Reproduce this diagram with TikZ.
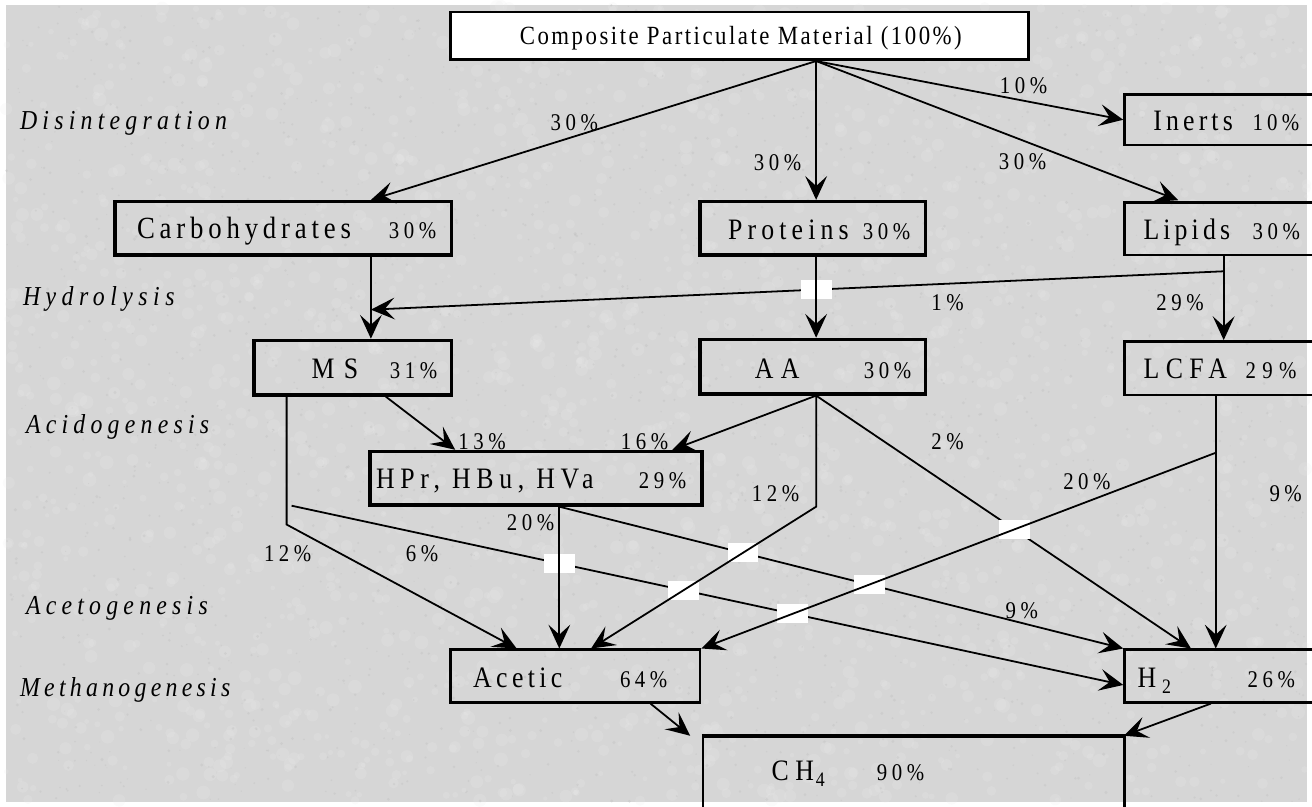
\documentclass[tikz,border=0pt]{standalone}
\usepackage{fontspec}
\usepackage{graphicx}
\setmainfont{Liberation Serif}
\usetikzlibrary{arrows.meta,intersections,calc}
\definecolor{bg}{RGB}{214,214,214}
\definecolor{bglight}{RGB}{236,236,236}
\definecolor{bgdark}{RGB}{190,190,190}
\newcommand{\T}[3]{\scalebox{1}[1.15]{\fontsize{#1}{#1}\selectfont\addfontfeatures{LetterSpace=#2}#3}}
\newcommand{\TI}[3]{\scalebox{1}[1.15]{\fontsize{#1}{#1}\selectfont\itshape\addfontfeatures{LetterSpace=#2}#3}}
\newcommand{\SUB}[1]{\raisebox{-5pt}{\fontsize{18}{18}\selectfont #1}}
\begin{document}
\begin{tikzpicture}[x=1pt,y=-1pt,
  box/.style={draw,line width=2.6pt,inner sep=0pt,rectangle},
  hbox/.style={box,line width=3.4pt},
  conn/.style={line width=1.8pt},
  arr/.style={conn,-{Stealth[length=24pt,width=22pt,inset=10pt]}},
  lab/.style={inner sep=0pt,anchor=base west},
  gapbox/.style={fill=white,inner sep=0pt,minimum width=31pt,minimum height=19pt}]
\fill[bg] (0,0) rectangle (1312,803);
% background texture
\pgfmathsetseed{7}
\foreach \i in {1,...,2200}{
  \pgfmathsetmacro{\px}{rnd*1312}\pgfmathsetmacro{\py}{rnd*803}\pgfmathsetmacro{\pr}{2+rnd*5}
  \fill[bglight,opacity=0.22] (\px,\py) circle[radius=\pr pt];
}
\foreach \i in {1,...,2200}{
  \pgfmathsetmacro{\px}{rnd*1312}\pgfmathsetmacro{\py}{rnd*803}\pgfmathsetmacro{\pr}{0.5+rnd*1.2}
  \fill[bgdark,opacity=0.35] (\px,\py) circle[radius=\pr pt];
}
\useasboundingbox (0,0) rectangle (1312,803);

% boxes
\node[box,fill=white,minimum width=583pt,minimum height=48pt] (comp) at (739.5,31) {};
\node[box,minimum width=192pt,minimum height=51pt] (inerts) at (1224,115.5) {};
\node[hbox,minimum width=339pt,minimum height=54pt] (carb) at (279.5,225) {};
\node[hbox,minimum width=227pt,minimum height=54pt] (prot) at (813.5,225) {};
\node[box,minimum width=192pt,minimum height=53pt] (lipids) at (1224,225.5) {};
\node[hbox,minimum width=199pt,minimum height=55pt] (ms) at (349.5,365.5) {};
\node[hbox,minimum width=227pt,minimum height=55pt] (aa) at (813.5,364.5) {};
\node[box,minimum width=192pt,minimum height=54pt] (lcfa) at (1224,366) {};
\node[hbox,minimum width=335pt,minimum height=54pt] (hpr) at (534.5,477) {};
\node[box,minimum width=252pt,minimum height=53pt] (acetic) at (574,676.5) {};
\node[box,minimum width=192pt,minimum height=53pt] (h2) at (1224,676.5) {};
\node[box,minimum width=425pt,minimum height=82pt] (ch4) at (915.5,779) {};
\draw[line width=3.4pt] (ch4.north west) -- (ch4.north east);

% texts in boxes
\node[lab] (compT) at (518,40) {\T{23}{11}{Composite Particulate Material (100\%)}};
\node[lab] (inertsT) at (1157,126) {\T{26}{16}{Inerts}};
\node[lab] (inertsP) at (1257,126) {\T{21}{20}{10\%}};
\node[lab] (carbT) at (132,235) {\T{27}{18}{Carbohydrates}};
\node[lab] (carbP) at (386,235) {\T{21}{22}{30\%}};
\node[lab] (protT) at (728,236) {\T{26}{20}{Proteins}};
\node[lab] (protP) at (864,236) {\T{21}{22}{30\%}};
\node[lab] (lipT) at (1147,236) {\T{26}{16}{Lipids}};
\node[lab] (lipP) at (1257,236) {\T{21}{22}{30\%}};
\node[lab] (msT) at (308,376) {\T{26}{36}{MS}};
\node[lab] (msP) at (387,376) {\T{21}{22}{31\%}};
\node[lab] (aaT) at (755,376) {\T{26}{29}{AA}};
\node[lab] (aaP) at (865,376) {\T{21}{22}{30\%}};
\node[lab] (lcfaT) at (1147,376) {\T{26}{25}{LCFA}};
\node[lab] (lcfaP) at (1250,376) {\T{21}{30}{29\%}};
\node[lab] (hprT) at (373,487) {\T{26}{22}{HPr, HBu, HVa}};
\node[lab] (hprP) at (638,487) {\T{21}{22}{29\%}};
\node[lab] (acT) at (471,688) {\T{26}{17}{Acetic}};
\node[lab] (acP) at (619,688) {\T{21}{22}{64\%}};
\node[lab] (h2T) at (1141,688) {\T{26}{0}{H\hspace{6pt}\SUB{2}}};
\node[lab] (h2P) at (1252,688) {\T{21}{22}{26\%}};
\node[lab] (ch4T) at (772,782) {\T{26}{25}{CH\hspace{2pt}\SUB{4}}};
\node[lab] (ch4P) at (878,782) {\T{21}{22}{90\%}};

% stage labels
\node[lab] (s1) at (14,125) {\TI{24}{22}{Disintegration}};
\node[lab] (s2) at (17,303) {\TI{24}{23}{Hydrolysis}};
\node[lab] (s3) at (20,432) {\TI{24}{22}{Acidogenesis}};
\node[lab] (s4) at (20,614) {\TI{24}{22}{Acetogenesis}};
\node[lab] (s5) at (14,697) {\TI{24}{18}{Methanogenesis}};

% coordinates
\coordinate (o) at ([xshift=77.5pt]comp.south);
\coordinate (lb) at ([xshift=4pt,yshift=-15pt]lipids.south);
\coordinate (msin) at (368,307);
\coordinate (aao) at ([xshift=3.5pt]aa.south);
\coordinate (aab) at ([yshift=-112pt]aao);
\coordinate (lcb) at ([xshift=-4pt,yshift=-57pt]lcfa.south);
\coordinate (msbot) at ([xshift=-66.5pt]ms.south);
\coordinate (msl) at ([yshift=-129pt]msbot);
\coordinate (ms6) at ([xshift=5pt,yshift=-110pt]msbot);
\coordinate (hprb) at ([xshift=23.5pt]hpr.south);

% disintegration
\draw[arr] (o) -- ([xshift=88.5pt]carb.north);
\draw[arr] (o) -- ([xshift=3.5pt]prot.north);
\draw[arr] (o) -- (inerts.west);
\draw[arr,shorten >=3pt] (o) -- ([xshift=-39pt]lipids.north);

% hydrolysis
\draw[arr] ([xshift=88.5pt]carb.south) -- ([xshift=18.5pt]ms.north);
\draw[arr] ([xshift=4pt]lipids.south) -- ([xshift=4pt]lcfa.north);

% named paths
\path[name path=p1] (lb) -- (msin);
\path[name path=pPA] ([xshift=3.5pt]prot.south) -- ([xshift=3.5pt]aa.north);
\path[name path=p6] (ms6) -- ([yshift=-9pt]h2.west);
\path[name path=p9] (hprb) -- (h2.north west);
\path[name path=pAH] (aao) -- ([xshift=-29pt]h2.north);
\path[name path=pHA] (hprb) -- ([xshift=-16pt]acetic.north);
\path[name path=pAA] (aab) -- ([xshift=16pt]acetic.north);
\path[name path=pLC] (lcb) -- (acetic.north east);

% under lines
\draw[arr] (lb) -- (msin);
\draw[arr] (ms6) -- ([yshift=-9pt]h2.west);
\draw[arr] (hprb) -- (h2.north west);
\draw[arr] (aao) -- ([xshift=-29pt]h2.north);

% white gaps
\path[name intersections={of=p1 and pPA,by={X1}}];
\path[name intersections={of=p6 and pHA,by={X2}}];
\path[name intersections={of=p6 and pAA,by={X3}}];
\path[name intersections={of=p6 and pLC,by={X4}}];
\path[name intersections={of=p9 and pAA,by={X5}}];
\path[name intersections={of=p9 and pLC,by={X6}}];
\path[name intersections={of=pAH and pLC,by={X7}}];
\node[gapbox] (g1) at (X1) {};
\node[gapbox] (g2) at (X2) {};
\node[gapbox] (g3) at (X3) {};
\node[gapbox] (g4) at (X4) {};
\node[gapbox] (g5) at (X5) {};
\node[gapbox] (g6) at (X6) {};
\node[gapbox] (g7) at (X7) {};

% over lines
\draw[arr] ([xshift=3.5pt]prot.south) -- ([xshift=3.5pt]aa.north);
\draw[arr] (hprb) -- ([xshift=-16pt]acetic.north);
\draw[arr] (aao) -- (aab) -- ([xshift=16pt]acetic.north);
\draw[arr] (lcb) -- (acetic.north east);

% acidogenesis
\draw[arr] ([xshift=33.5pt]ms.south) -- ([xshift=-81.5pt]hpr.north);
\draw[arr] (aao) -- ([xshift=137.5pt]hpr.north);
\draw[arr] ([xshift=-4pt]lcfa.south) -- ([xshift=-4pt]h2.north);
\draw[arr] (msbot) -- (msl) -- ([xshift=-59pt]acetic.north);

% methanogenesis
\draw[arr] ([xshift=76pt]acetic.south) -- ([xshift=-225.5pt]ch4.north);
\draw[arr] ([xshift=-9pt]h2.south) -- ([xshift=-2pt]ch4.north east);

% edge labels
\node[lab] (l1) at (549,126) {\T{21}{22}{30\%}};
\node[lab] (l2) at (754,167) {\T{21}{22}{30\%}};
\node[lab] (l3) at (1002,89) {\T{21}{22}{10\%}};
\node[lab] (l4) at (1001,166) {\T{21}{22}{30\%}};
\node[lab] (l5) at (1160,308) {\T{21}{22}{29\%}};
\node[lab] (l6) at (933,308) {\T{21}{22}{1\%}};
\node[lab] (l7) at (456,448) {\T{21}{22}{13\%}};
\node[lab] (l8) at (620,448) {\T{21}{22}{16\%}};
\node[lab] (l9) at (505,530) {\T{21}{22}{20\%}};
\node[lab] (l10) at (260,561) {\T{21}{22}{12\%}};
\node[lab] (l11) at (403,561) {\T{21}{22}{6\%}};
\node[lab] (l12) at (752,500) {\T{21}{22}{12\%}};
\node[lab] (l13) at (933,448) {\T{21}{22}{2\%}};
\node[lab] (l14) at (1066,488) {\T{21}{22}{20\%}};
\node[lab] (l15) at (1274,500) {\T{21}{22}{9\%}};
\node[lab] (l16) at (1008,618) {\T{21}{22}{9\%}};
\end{tikzpicture}
\end{document}
